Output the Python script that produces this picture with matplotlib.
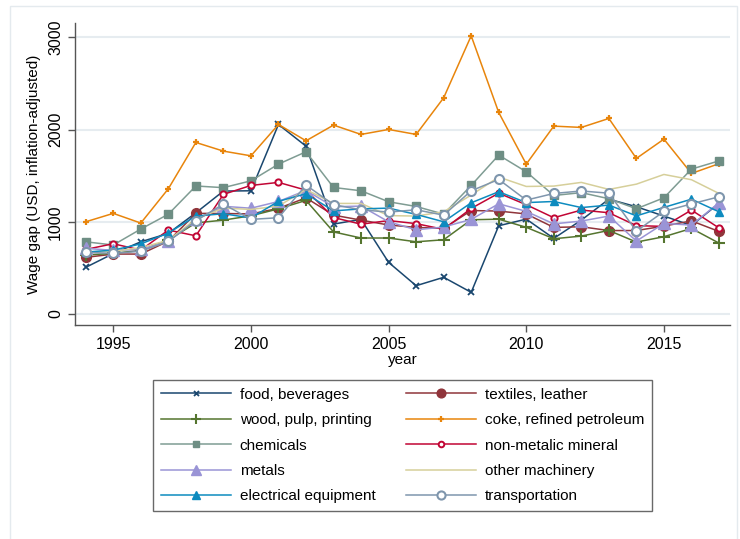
import numpy as np
import matplotlib
matplotlib.use("Agg")
import matplotlib.pyplot as plt
from matplotlib.patches import Rectangle

plt.rcParams['font.family'] = ['Liberation Sans', 'DejaVu Sans']

years = np.arange(1994, 2018)

food = [506, 655, 783, 874, 1097, 1333, 1336, 2055, 1820, 975, 1026, 560,
        307, 398, 235, 957, 1029, 820, 1018, 1245, 1163, 1062, 960, 1200]
textiles = [614, 650, 650, 790, 1091, 1090, 1085, 1145, 1260, 1072, 1018, 965,
            939, 928, 1122, 1116, 1085, 939, 946, 905, 905, 953, 1010, 895]
wood = [639, 658, 690, 802, 988, 1018, 1065, 1140, 1232, 890, 824, 824,
        783, 805, 1022, 1028, 940, 816, 845, 906, 780, 838, 928, 769]
coke = [1000, 1091, 986, 1358, 1860, 1766, 1715, 2055, 1878, 2048, 1947, 2001,
        1947, 2344, 3016, 2185, 1625, 2037, 2023, 2120, 1687, 1896, 1524, 1630]
chemicals = [783, 748, 921, 1082, 1388, 1370, 1444, 1625, 1759, 1372, 1336, 1217,
             1166, 1083, 1394, 1723, 1542, 1285, 1316, 1250, 1141, 1260, 1571, 1660]
nonmetal = [700, 762, 693, 910, 848, 1297, 1394, 1427, 1343, 1046, 974, 1013,
            980, 918, 1145, 1310, 1185, 1044, 1127, 1098, 958, 950, 1127, 933]
metals = [712, 690, 700, 787, 1025, 1168, 1147, 1220, 1340, 1163, 1170, 1000,
          913, 943, 1026, 1195, 1113, 977, 1008, 1062, 791, 982, 964, 1206]
machinery = [675, 680, 720, 800, 1030, 1148, 1134, 1170, 1350, 1199, 1199, 1067,
             1062, 1108, 1290, 1485, 1383, 1387, 1427, 1351, 1408, 1513, 1456, 1307]
electrical = [671, 693, 760, 878, 1062, 1087, 1042, 1222, 1304, 1118, 1140, 1148,
              1080, 1000, 1206, 1326, 1208, 1220, 1154, 1181, 1064, 1156, 1245, 1108]
transport = [668, 658, 680, 787, 1011, 1192, 1026, 1044, 1398, 1185, 1130, 1105,
             1130, 1072, 1336, 1459, 1235, 1307, 1334, 1310, 899, 1112, 1194, 1271]

labels = ["food, beverages", "textiles, leather", "wood, pulp, printing",
          "coke, refined petroleum", "chemicals", "non-metalic mineral",
          "metals", "other machinery", "electrical equipment", "transportation"]

# (line colour, marker, marker size, marker face, marker edge width)
styles = [
    ('#1a476f', 'x', 4, None, 1.3),
    ('#90353b', 'o', 7, None, 1.0),
    ('#55752f', '+', 8, None, 1.5),
    ('#e8850c', '+', 5, None, 1.6),
    ('#7f9c93', 's', 5.5, '#6e8e84', 1.0),
    ('#c10534', 'o', 4.5, 'white', 1.4),
    ('#9a94d6', '^', 8, None, 1.0),
    ('#d6cf9a', 'None', 0, None, 1.0),
    ('#0d8bbf', '^', 6, None, 1.0),
    ('#7f96ad', 'o', 6.5, 'white', 1.5),
]
series = [food, textiles, wood, coke, chemicals, nonmetal,
          metals, machinery, electrical, transport]

fig = plt.figure(figsize=(7.4, 5.39), dpi=100)
ax = fig.add_axes([75/740, 1-325/539, 655/740, 302/539])

handles = []
for vals, lab, (c, m, ms, mfc, mew) in zip(series, labels, styles):
    h, = ax.plot(years, vals, color=c, lw=1.1, marker=m, markersize=ms,
                 markerfacecolor=mfc if mfc else c, markeredgecolor=c if m != 's' else mfc,
                 markeredgewidth=mew, label=lab)
    handles.append(h)

ax.set_xlim(1993.61, 2017.4)
ax.set_ylim(-119, 3155)
ax.set_xticks([1995, 2000, 2005, 2010, 2015])
ax.set_yticks([0, 1000, 2000, 3000])
ax.grid(axis='y', color='#e6ecf0', lw=1.5)
ax.set_axisbelow(True)
for s in ['top', 'right']:
    ax.spines[s].set_visible(False)
for s in ['left', 'bottom']:
    ax.spines[s].set_color('#555555')
    ax.spines[s].set_linewidth(1.0)
ax.tick_params(colors='#555555', labelcolor='black', labelsize=11.5, length=5, width=1)
plt.setp(ax.get_yticklabels(), rotation=90, va='center')
ax.set_xlabel("year", fontsize=11, labelpad=1)
ax.set_ylabel("Wage gap (USD, inflation-adjusted)", fontsize=11, labelpad=5)

order = [0, 2, 4, 6, 8, 1, 3, 5, 7, 9]
leg = fig.legend([handles[i] for i in order], [labels[i] for i in order],
                 ncol=2, loc='upper center', bbox_to_anchor=(0.544, 1-380/539),
                 borderaxespad=0, fontsize=11, frameon=True, fancybox=False,
                 handlelength=4.6, handletextpad=0.55, columnspacing=2.0,
                 labelspacing=0.75, borderpad=0.5, markerscale=0.9)
leg.get_frame().set_edgecolor('#444444')
leg.get_frame().set_linewidth(1.0)

# faint outer frame around the graph region
fig.patches.append(Rectangle((10/740, -0.02), 727/740, 1-6/539+0.02,
                             transform=fig.transFigure, fill=False,
                             edgecolor='#e4eaee', lw=1.0))

fig.savefig("out.png", dpi=100)
